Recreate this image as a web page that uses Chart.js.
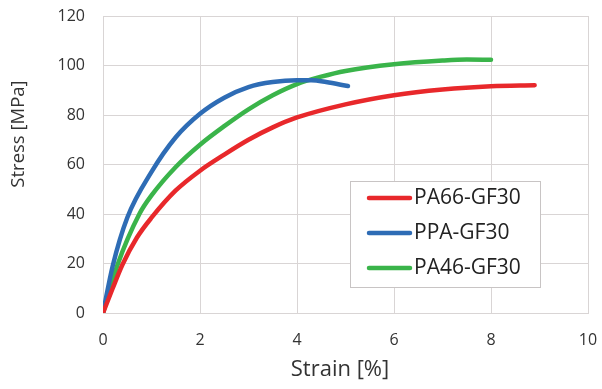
<!DOCTYPE html>
<html>
<head>
<meta charset="utf-8">
<script src="https://cdn.jsdelivr.net/npm/chart.js@4/dist/chart.umd.min.js"></script>
<style>
  html, body { margin: 0; padding: 0; background: #fff; }
  #wrap { width: 602px; height: 389px; }
</style>
</head>
<body>
<div id="wrap"><canvas id="grafico" width="602" height="389"></canvas></div>
<script>
// values (strain in %, stress in MPa)
var seriesLabels = ['PA66-GF30', 'PPA-GF30', 'PA46-GF30'];
var seriesColors = ['#E8282B', '#2E6CB5', '#3AB44A'];

var pa66Strain = [0, 0.2, 0.4, 0.7, 1, 1.5, 2, 2.5, 3, 3.5, 4, 5, 6, 7, 8, 8.9];
var pa66Stress = [0, 10, 19.5, 30.5, 38.5, 49.5, 57.5, 64, 70, 75, 79, 84.3, 88, 90.3, 91.6, 92];

var ppaStrain = [0, 0.2, 0.5, 1, 1.5, 2, 2.5, 3, 3.5, 4, 4.3, 4.6, 5.05];
var ppaStress = [0, 19, 38.5, 57, 71, 80.5, 87, 91.3, 93.3, 94, 94, 93.3, 91.7];

var pa46Strain = [0, 0.3, 0.75, 1, 1.5, 2, 2.5, 3, 3.5, 4, 4.5, 5, 6, 7, 7.5, 8];
var pa46Stress = [0, 19.5, 40, 47.5, 59, 68, 75.5, 82.3, 88, 92.5, 95.5, 97.8, 100.5, 102, 102.4, 102.3];

var xTicks = [0, 2, 4, 6, 8, 10];
var yTicks = [0, 20, 40, 60, 80, 100, 120];
var xTitle = 'Strain [%]';
var yTitle = 'Stress [MPa]';

function pares(xs, ys) {
	return xs.map(function(x, i){ return { x: x, y: ys[i] }; });
}

var strains = [pa66Strain, ppaStrain, pa46Strain];
var stresses = [pa66Stress, ppaStress, pa46Stress];

var datasets = seriesLabels.map(function(label, i){
	return {
		label: label,
		data: pares(strains[i], stresses[i]),
		borderColor: seriesColors[i],
		backgroundColor: seriesColors[i],
		borderWidth: 4.5,
		pointRadius: 0,
		showLine: true,
		cubicInterpolationMode: 'monotone',
		borderCapStyle: 'round'
	};
});

// axis titles and legend box drawn by hand, placed like the original
var extras = {
	id: 'extras',
	afterDraw: function(chart){
		var ctx = chart.ctx;
		ctx.save();
		ctx.fillStyle = '#333';
		ctx.textAlign = 'center';
		ctx.textBaseline = 'middle';
		ctx.font = '22px "Open Sans"';
		ctx.fillText(xTitle, 340, 370);
		ctx.save();
		ctx.translate(19, 134);
		ctx.rotate(-Math.PI / 2);
		ctx.font = '18.5px "Open Sans"';
		ctx.fillText(yTitle, 0, 0);
		ctx.restore();

		var bx = 350, by = 181, bw = 190, bh = 106;
		ctx.fillStyle = '#fff';
		ctx.fillRect(bx, by, bw, bh);
		ctx.strokeStyle = '#c8c4c4';
		ctx.lineWidth = 1;
		ctx.strokeRect(bx + 0.5, by + 0.5, bw, bh);
		ctx.font = '21px "Open Sans"';
		ctx.textAlign = 'left';
		chart.data.datasets.forEach(function(ds, i){
			var y = by + 17 + i * 35;
			ctx.strokeStyle = ds.borderColor;
			ctx.lineWidth = 4.5;
			ctx.lineCap = 'round';
			ctx.beginPath();
			ctx.moveTo(369, y);
			ctx.lineTo(410, y);
			ctx.stroke();
			ctx.fillStyle = '#222';
			ctx.fillText(ds.label, 414, y);
		});
		ctx.restore();
	}
};

new Chart(document.getElementById('grafico').getContext('2d'), {
	type: 'scatter',
	data: { datasets: datasets },
	plugins: [extras],
	options: {
		responsive: false,
		animation: false,
		layout: { padding: { top: 16, right: 14, left: 0, bottom: 0 } },
		plugins: {
			legend: { display: false },
			tooltip: { enabled: false }
		},
		scales: {
			x: {
				type: 'linear',
				min: 0, max: 10,
				afterBuildTicks: function(scale){ scale.ticks = xTicks.map(function(v){ return { value: v }; }); },
				afterFit: function(scale){
					scale.height = 76;
					scale.paddingLeft = 0;
					scale.paddingRight = 0;
				},
				grid: { color: '#d9d5d5', lineWidth: 1, drawTicks: false },
				border: { color: '#d9d5d5' },
				ticks: { padding: 18, color: '#333', font: { family: 'Open Sans', size: 16 } }
			},
			y: {
				type: 'linear',
				min: 0, max: 120,
				afterBuildTicks: function(scale){ scale.ticks = yTicks.map(function(v){ return { value: v }; }); },
				afterFit: function(scale){
					scale.width = 103;
					scale.paddingTop = 0;
					scale.paddingBottom = 0;
				},
				grid: { color: '#d9d5d5', lineWidth: 1, drawTicks: false },
				border: { color: '#d9d5d5' },
				ticks: { padding: 18, color: '#333', font: { family: 'Open Sans', size: 16 } }
			}
		}
	}
});
</script>
</body>
</html>
